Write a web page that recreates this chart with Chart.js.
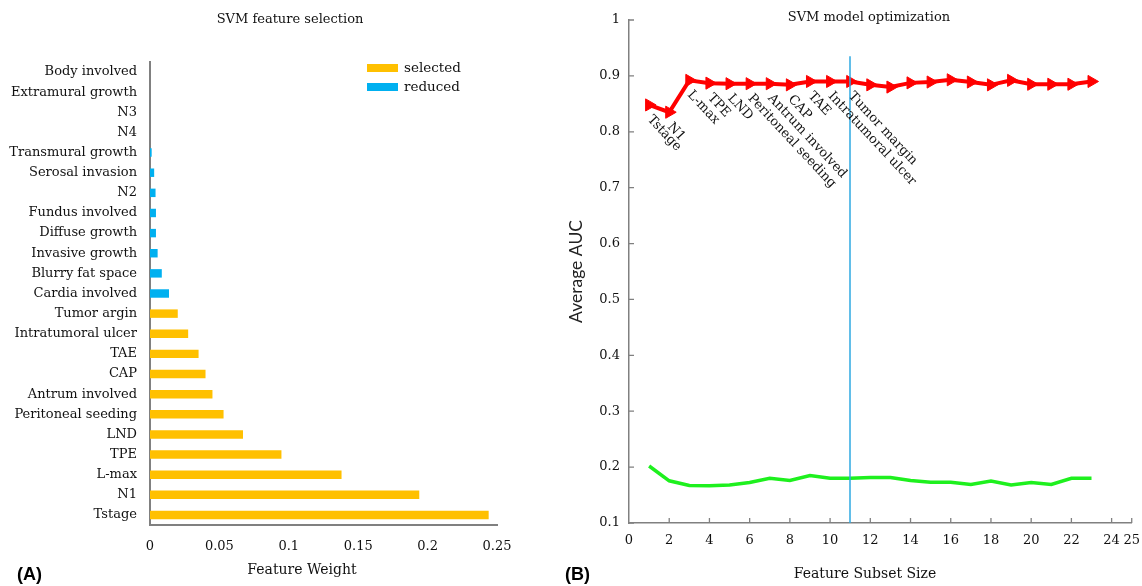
<!DOCTYPE html>
<html>
<head>
<meta charset="utf-8">
<script src="https://cdn.jsdelivr.net/npm/chart.js@4.4.1/dist/chart.umd.min.js"></script>
<style>
  body { margin: 0; background: #fff; width: 1142px; height: 586px; position: relative; overflow: hidden; }
  canvas { position: absolute; top: 0; }
  #chartFeatures { left: 0; }
  #chartModel { left: 560px; }
  .tag { position: absolute; top: 564px; font: bold 18px "Liberation Sans", Arial, sans-serif; color: #000; }
</style>
</head>
<body>
<canvas id="chartFeatures" width="580" height="586"></canvas>
<canvas id="chartModel" width="590" height="586"></canvas>
<div class="tag" style="left:17px">(A)</div>
<div class="tag" style="left:565px">(B)</div>
<script>
// ---- panel A : feature weights ----
const featureNames = ['Body involved', 'Extramural growth', 'N3', 'N4', 'Transmural growth',
  'Serosal invasion', 'N2', 'Fundus involved', 'Diffuse growth', 'Invasive growth',
  'Blurry fat space', 'Cardia involved', 'Tumor argin', 'Intratumoral ulcer', 'TAE', 'CAP',
  'Antrum involved', 'Peritoneal seeding', 'LND', 'TPE', 'L-max', 'N1', 'Tstage'];
const selectedWeights = [null, null, null, null, null, null, null, null, null, null, null, null,
  0.020, 0.0275, 0.035, 0.040, 0.045, 0.053, 0.067, 0.0947, 0.138, 0.194, 0.244];
const reducedWeights = [0, 0, 0, 0, 0.0012, 0.003, 0.004, 0.0043, 0.0043, 0.0055, 0.0085, 0.0137,
  null, null, null, null, null, null, null, null, null, null, null];
const weightTicks = [0, 0.05, 0.1, 0.15, 0.2, 0.25];

// ---- panel B : model optimization ----
const subsetSizes = [1, 2, 3, 4, 5, 6, 7, 8, 9, 10, 11, 12, 13, 14, 15, 16, 17, 18, 19, 20, 21, 22, 23];
const aucRed = [0.848, 0.835, 0.892, 0.887, 0.886, 0.886, 0.886, 0.884, 0.890, 0.890, 0.890, 0.884,
  0.880, 0.8875, 0.889, 0.893, 0.889, 0.884, 0.892, 0.885, 0.885, 0.885, 0.890];
const aucGreen = [0.202, 0.1755, 0.167, 0.1666, 0.168, 0.1725, 0.180, 0.176, 0.185, 0.180, 0.180, 0.1815,
  0.1815, 0.176, 0.173, 0.173, 0.169, 0.175, 0.168, 0.1725, 0.169, 0.180, 0.180];
const subsetLabels = ['Tstage', 'N1', 'L-max', 'TPE', 'LND', 'Peritoneal seeding', 'Antrum involved',
  'CAP', 'TAE', 'Intratumoral ulcer', 'Tumor margin'];
const sizeTicks = [0, 2, 4, 6, 8, 10, 12, 14, 16, 18, 20, 22, 24, 25];
const aucTicks = [0.1, 0.2, 0.3, 0.4, 0.5, 0.6, 0.7, 0.8, 0.9, 1];
const cutoffSize = 11;
const cutoffTop = 0.935;

const SERIF = '"DejaVu Serif", "Liberation Serif", serif';
const AXIS_GREY = '#808080';
const fmt = v => String(Math.round(v * 100) / 100);

// free-standing texts (chart title, x axis caption) – placed like in the figure
const captions = {
  id: 'captions',
  afterDraw(chart, args, opts) {
    const ctx = chart.ctx;
    ctx.save();
    ctx.fillStyle = '#111';
    ctx.textAlign = 'center';
    ctx.textBaseline = 'middle';
    (opts.items || []).forEach(c => {
      ctx.font = c.size + 'px ' + SERIF;
      ctx.fillText(c.text, c.x, c.y);
    });
    ctx.restore();
  }
};

// legend drawn inside the plot (top right)
const boxLegend = {
  id: 'boxLegend',
  afterDraw(chart) {
    const ctx = chart.ctx;
    ctx.save();
    ctx.font = '13.5px ' + SERIF;
    ctx.textBaseline = 'middle';
    chart.data.datasets.forEach((ds, i) => {
      const y = 68 + i * 19;
      ctx.fillStyle = ds.backgroundColor;
      ctx.fillRect(367, y - 4, 31, 8);
      ctx.fillStyle = '#111';
      ctx.fillText(ds.label, 404, y);
    });
    ctx.restore();
  }
};

new Chart(document.getElementById('chartFeatures'), {
  type: 'bar',
  data: {
    labels: featureNames,
    datasets: [
      { label: 'selected', data: selectedWeights, backgroundColor: '#FFC000' },
      { label: 'reduced', data: reducedWeights, backgroundColor: '#00B0F0' }
    ]
  },
  options: {
    responsive: false,
    animation: false,
    indexAxis: 'y',
    grouped: false,
    barPercentage: 0.42,
    categoryPercentage: 1,
    layout: { padding: { left: 0, right: 83, top: 62, bottom: 0 } },
    plugins: {
      legend: { display: false },
      tooltip: { enabled: false },
      captions: {
        items: [
          { text: 'SVM feature selection', x: 290, y: 20, size: 13 },
          { text: 'Feature Weight', x: 302, y: 570, size: 14 }
        ]
      }
    },
    scales: {
      x: {
        min: 0, max: 0.25,
        afterBuildTicks: s => { s.ticks = weightTicks.map(v => ({ value: v })); },
        afterFit: s => { s.height = 61; },
        grid: { display: false, drawTicks: false },
        border: { color: AXIS_GREY, width: 2 },
        ticks: { color: '#111', padding: 14, font: { family: SERIF, size: 13 }, callback: fmt, maxRotation: 0 }
      },
      y: {
        afterFit: s => { s.width = 150; },
        grid: { display: false, drawTicks: false },
        border: { color: AXIS_GREY, width: 2 },
        ticks: { color: '#111', padding: 13, font: { family: SERIF, size: 13 }, autoSkip: false }
      }
    }
  },
  plugins: [boxLegend, captions]
});

// ---- panel B plugins ----
const inwardTicks = {
  id: 'inwardTicks',
  afterDraw(chart) {
    const { ctx, chartArea: a, scales: { x, y } } = chart;
    ctx.save();
    ctx.strokeStyle = AXIS_GREY;
    ctx.lineWidth = 1.3;
    ctx.beginPath();
    sizeTicks.forEach(v => {
      if (v === 0) return;
      const px = x.getPixelForValue(v);
      ctx.moveTo(px, a.bottom); ctx.lineTo(px, a.bottom - 5);
    });
    aucTicks.forEach(v => {
      const py = y.getPixelForValue(v);
      ctx.moveTo(a.left, py); ctx.lineTo(a.left + 5, py);
    });
    ctx.stroke();
    ctx.restore();
  }
};

const cutoffLine = {
  id: 'cutoffLine',
  afterDatasetsDraw(chart) {
    const { ctx, chartArea: a, scales: { x, y } } = chart;
    const px = Math.round(x.getPixelForValue(cutoffSize));
    ctx.save();
    ctx.strokeStyle = '#2EA8E2';
    ctx.lineWidth = 1.5;
    ctx.beginPath();
    ctx.moveTo(px, y.getPixelForValue(cutoffTop));
    ctx.lineTo(px, a.bottom);
    ctx.stroke();
    ctx.restore();
  }
};

const pointNames = {
  id: 'pointNames',
  afterDatasetsDraw(chart) {
    const meta = chart.getDatasetMeta(0);
    const ctx = chart.ctx;
    ctx.save();
    ctx.font = '13px ' + SERIF;
    ctx.fillStyle = '#111';
    ctx.textBaseline = 'top';
    ctx.textAlign = 'left';
    subsetLabels.forEach((t, i) => {
      const p = meta.data[i];
      ctx.save();
      ctx.translate(p.x + 5, p.y + 8);
      ctx.rotate(47 * Math.PI / 180);
      ctx.fillText(t, 0, 0);
      ctx.restore();
    });
    ctx.restore();
  }
};

new Chart(document.getElementById('chartModel'), {
  type: 'line',
  data: {
    datasets: [
      {
        data: subsetSizes.map((s, i) => ({ x: s, y: aucRed[i] })),
        borderColor: '#FF0000', backgroundColor: '#FF0000',
        borderWidth: 4, pointStyle: 'triangle', rotation: 90, pointRadius: 7,
        pointBorderWidth: 1, pointBackgroundColor: '#FF0000', tension: 0
      },
      {
        data: subsetSizes.map((s, i) => ({ x: s, y: aucGreen[i] })),
        borderColor: '#1EF01E', borderWidth: 3.5, pointRadius: 0, tension: 0
      }
    ]
  },
  options: {
    responsive: false,
    animation: false,
    layout: { autoPadding: false, padding: { left: 0, right: 0, top: 20, bottom: 0 } },
    plugins: {
      legend: { display: false },
      tooltip: { enabled: false },
      captions: {
        items: [
          { text: 'SVM model optimization', x: 309, y: 18, size: 13 },
          { text: 'Feature Subset Size', x: 305, y: 574, size: 14 }
        ]
      }
    },
    scales: {
      x: {
        type: 'linear', min: 0, max: 25,
        afterBuildTicks: s => { s.ticks = sizeTicks.map(v => ({ value: v })); },
        afterFit: s => { s.height = 63; },
        grid: { display: false, drawTicks: false },
        border: { color: AXIS_GREY, width: 1.5 },
        ticks: { color: '#111', padding: 10, font: { family: SERIF, size: 13 }, maxRotation: 0, autoSkip: false }
      },
      y: {
        min: 0.1, max: 1,
        afterBuildTicks: s => { s.ticks = aucTicks.map(v => ({ value: v })); },
        afterFit: s => { s.width = 69; },
        grid: { display: false, drawTicks: false },
        border: { color: AXIS_GREY, width: 1.5 },
        ticks: { color: '#111', padding: 9, font: { family: SERIF, size: 13 }, callback: fmt, autoSkip: false },
        title: { display: true, text: 'Average AUC', color: '#222', font: { family: 'Lato', size: 17.5 }, padding: { top: 6, bottom: 0 } }
      }
    }
  },
  plugins: [inwardTicks, cutoffLine, pointNames, captions]
});
</script>
</body>
</html>
